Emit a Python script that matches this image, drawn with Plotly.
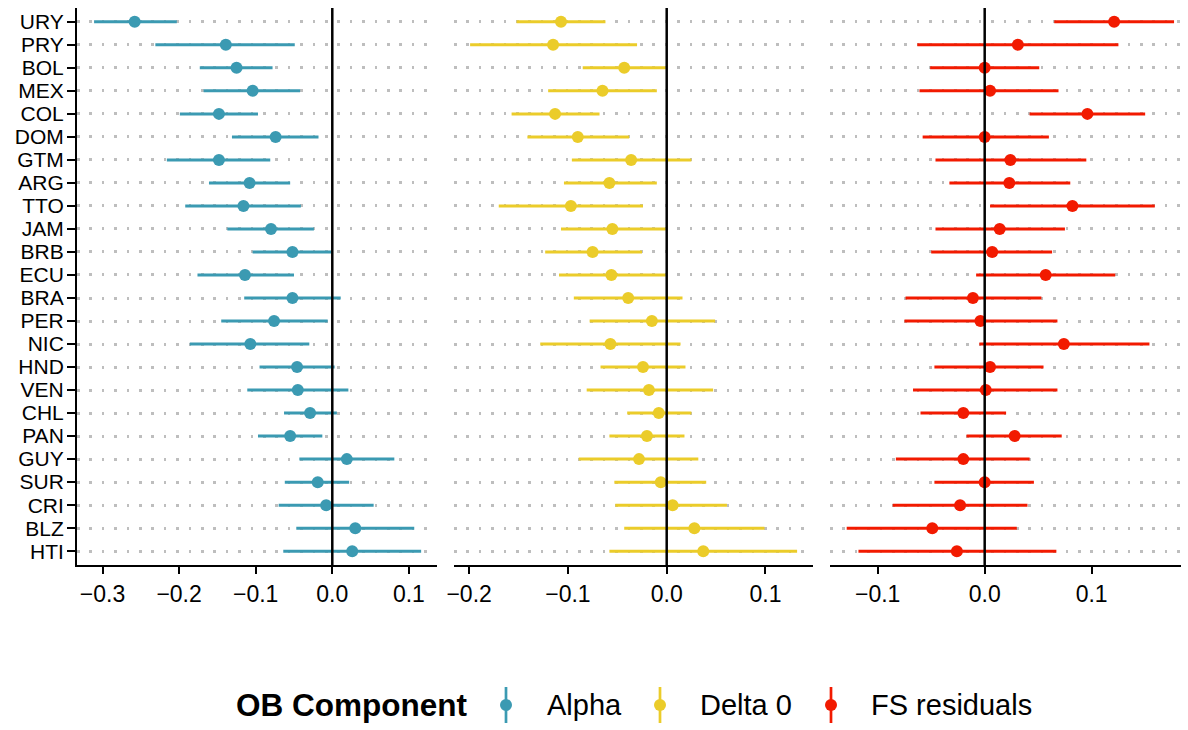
import plotly.graph_objects as go

# Countries, top to bottom
countries = ["URY", "PRY", "BOL", "MEX", "COL", "DOM", "GTM", "ARG", "TTO", "JAM", "BRB", "ECU",
             "BRA", "PER", "NIC", "HND", "VEN", "CHL", "PAN", "GUY", "SUR", "CRI", "BLZ", "HTI"]

# Alpha: point estimate and confidence interval
alpha_est = [-0.258, -0.139, -0.125, -0.104, -0.148, -0.074, -0.148, -0.108, -0.116, -0.080, -0.052, -0.114,
             -0.052, -0.076, -0.107, -0.046, -0.045, -0.029, -0.055, 0.019, -0.019, -0.008, 0.030, 0.026]
alpha_lo = [-0.311, -0.231, -0.173, -0.168, -0.199, -0.131, -0.216, -0.161, -0.192, -0.137, -0.104, -0.176,
            -0.115, -0.145, -0.186, -0.095, -0.111, -0.063, -0.097, -0.043, -0.062, -0.070, -0.047, -0.064]
alpha_hi = [-0.203, -0.049, -0.078, -0.042, -0.097, -0.018, -0.081, -0.055, -0.041, -0.024, -0.001, -0.050,
            0.011, -0.006, -0.030, 0.003, 0.021, 0.006, -0.013, 0.081, 0.022, 0.054, 0.107, 0.116]

# Delta 0
delta_est = [-0.107, -0.115, -0.043, -0.065, -0.113, -0.090, -0.036, -0.058, -0.097, -0.055, -0.075, -0.056,
             -0.039, -0.015, -0.057, -0.024, -0.018, -0.008, -0.020, -0.028, -0.006, 0.006, 0.028, 0.037]
delta_lo = [-0.152, -0.199, -0.085, -0.120, -0.157, -0.141, -0.096, -0.104, -0.170, -0.107, -0.123, -0.109,
            -0.094, -0.078, -0.128, -0.067, -0.081, -0.040, -0.058, -0.089, -0.053, -0.052, -0.043, -0.058]
delta_hi = [-0.062, -0.030, -0.001, -0.010, -0.068, -0.038, 0.025, -0.010, -0.024, -0.001, -0.025, -0.001,
            0.016, 0.049, 0.014, 0.019, 0.047, 0.025, 0.018, 0.032, 0.040, 0.061, 0.099, 0.132]

# FS residuals
fs_est = [0.121, 0.031, 0.000, 0.005, 0.096, 0.000, 0.024, 0.023, 0.082, 0.014, 0.007, 0.057,
          -0.011, -0.004, 0.074, 0.005, 0.001, -0.020, 0.028, -0.020, 0.000, -0.023, -0.049, -0.026]
fs_lo = [0.065, -0.063, -0.051, -0.061, 0.042, -0.058, -0.046, -0.033, 0.005, -0.046, -0.050, -0.008,
         -0.074, -0.075, -0.005, -0.047, -0.067, -0.060, -0.017, -0.083, -0.047, -0.086, -0.129, -0.118]
fs_hi = [0.177, 0.125, 0.051, 0.069, 0.150, 0.060, 0.095, 0.080, 0.159, 0.075, 0.063, 0.122,
         0.053, 0.068, 0.154, 0.055, 0.068, 0.020, 0.072, 0.042, 0.046, 0.040, 0.030, 0.067]

components = ["Alpha", "Delta 0", "FS residuals"]
colors = ["#3B9AB2", "#EBCC2A", "#F21A00"]
x_ticks = [[-0.3, -0.2, -0.1, 0.0, 0.1], [-0.2, -0.1, 0.0, 0.1], [-0.1, 0.0, 0.1]]

series = [(alpha_est, alpha_lo, alpha_hi), (delta_est, delta_lo, delta_hi), (fs_est, fs_lo, fs_hi)]

# Page geometry (pixels)
W, H = 1188, 730
ML, MR, MT, MB = 77, 7, 8, 165
PW, PH = W - ML - MR, H - MT - MB
panel_px = [(77, 437.3), (454, 813.3), (830, 1181)]
x_ranges = [[-0.3333, 0.1371], [-0.2153, 0.1484], [-0.1446, 0.1835]]

FONT = "Liberation Sans, Arial, Helvetica, sans-serif"


def px_x(px):
    return (px - ML) / PW


def px_y(py):
    return (H - MB - py) / PH


fig = go.Figure()
layout = dict(
    width=W, height=H,
    margin=dict(l=ML, r=MR, t=MT, b=MB, pad=0),
    paper_bgcolor="white", plot_bgcolor="white",
    showlegend=False,
    font=dict(family=FONT, color="black"),
    shapes=[], annotations=[],
)

for i, ((est, lo, hi), color) in enumerate(zip(series, colors)):
    n = "" if i == 0 else str(i + 1)
    fig.add_trace(go.Scatter(
        x=est, y=countries, mode="markers", name=components[i],
        marker=dict(size=12, color=color, line=dict(width=0)),
        error_x=dict(type="data", symmetric=False,
                     array=[h - e for h, e in zip(hi, est)],
                     arrayminus=[e - l for e, l in zip(est, lo)],
                     thickness=3, width=0, color=color),
        xaxis="x" + n, yaxis="y" + n, cliponaxis=False,
    ))
    layout["xaxis" + n] = dict(
        domain=[px_x(panel_px[i][0]), px_x(panel_px[i][1])],
        range=x_ranges[i], anchor="y" + n,
        tickvals=x_ticks[i], tickformat=".1f",
        showline=True, linecolor="black", linewidth=2,
        ticks="outside", ticklen=7, tickwidth=2, tickcolor="black",
        showgrid=False, zeroline=False,
        tickfont=dict(size=23, family=FONT, color="black"),
    )
    ydef = dict(
        type="category", categoryorder="array", categoryarray=countries,
        tickmode="array", tickvals=countries,
        range=[len(countries) - 0.4, -0.6], anchor="x" + n,
        showgrid=True, gridcolor="#BEBEBE", gridwidth=2.5, griddash="2.5px,9.9px",
        zeroline=False,
    )
    if i == 0:
        ydef.update(showline=True, linecolor="black", linewidth=2,
                    ticks="outside", ticklen=8, tickwidth=2, tickcolor="black",
                    ticklabelstandoff=-1,
                    tickfont=dict(size=21, family=FONT, color="black"))
    else:
        ydef.update(matches="y", showline=False, ticks="", showticklabels=False)
    layout["yaxis" + n] = ydef
    # vertical reference line at zero, drawn over the points
    layout["shapes"].append(dict(
        type="line", xref="x" + n, yref="y" + n + " domain",
        x0=0, x1=0, y0=0, y1=1, layer="above",
        line=dict(color="black", width=2.5),
    ))

# Legend drawn at the bottom: title, then a point-range key for each component
leg_y = 705
layout["annotations"].append(dict(
    text="<b>OB Component</b>", xref="paper", yref="paper",
    x=px_x(234), y=px_y(leg_y), xanchor="left", yanchor="middle",
    showarrow=False, font=dict(size=31.5, family=FONT, color="black"),
))
key_x = [506, 660, 831]
text_x = [545, 698, 869]
for kx, tx, label, color in zip(key_x, text_x, components, colors):
    layout["shapes"].append(dict(
        type="line", xref="paper", yref="paper",
        x0=px_x(kx), x1=px_x(kx), y0=px_y(687), y1=px_y(723),
        line=dict(color=color, width=2.7),
    ))
    layout["shapes"].append(dict(
        type="circle", xref="paper", yref="paper",
        x0=px_x(kx - 6), x1=px_x(kx + 6), y0=px_y(leg_y - 6), y1=px_y(leg_y + 6),
        fillcolor=color, line=dict(width=0),
    ))
    layout["annotations"].append(dict(
        text=label, xref="paper", yref="paper",
        x=px_x(tx), y=px_y(leg_y), xanchor="left", yanchor="middle",
        showarrow=False, font=dict(size=29, family=FONT, color="black"),
    ))

fig.update_layout(**layout)
fig.write_html("out.html")
